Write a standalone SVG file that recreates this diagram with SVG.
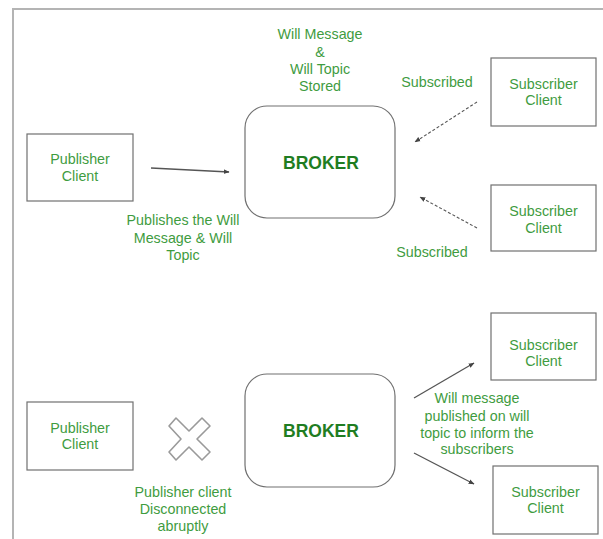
<svg xmlns="http://www.w3.org/2000/svg" width="603" height="539" viewBox="0 0 603 539">
  <style>
    .frame { fill: none; stroke: #b4b4b4; stroke-width: 2; }
    .box { fill: #ffffff; stroke: #707070; stroke-width: 1.2; }
    .broker { fill: #ffffff; stroke: #707070; stroke-width: 1.2; }
    .lbl { font-family: "Liberation Sans", Arial, sans-serif; font-size: 14.3px; fill: #3f9c3f; text-anchor: middle; }
    .title { font-family: "Liberation Sans", Arial, sans-serif; font-size: 17.5px; font-weight: bold; fill: #1f7d22; text-anchor: middle; }
    .edge { fill: none; stroke: #555555; stroke-width: 1.3; }
    .dash { stroke-dasharray: 3 2; stroke-width: 1.1; }
    .cross { fill: #ffffff; stroke: #9a9a9a; stroke-width: 1.6; stroke-linejoin: round; }
  </style>
  <defs>
    <marker id="arrow" viewBox="0 0 10 10" refX="9" refY="5" markerWidth="6" markerHeight="6" orient="auto" markerUnits="userSpaceOnUse">
      <path d="M0,1 L10,5 L0,9 Z" fill="#444444"/>
    </marker>
  </defs>

  <rect width="603" height="539" fill="#ffffff"/>
  <!-- outer frame: top and left edges -->
  <path class="frame" d="M13,539 L13,9 L603,9"/>

  <!-- upper scenario -->
  <g id="publisher-top">
    <rect class="box" x="27" y="134" width="106" height="67"/>
    <text class="lbl" x="80" y="164">Publisher</text>
    <text class="lbl" x="80" y="181">Client</text>
  </g>
  <g id="broker-top">
    <rect class="broker" x="245" y="106" width="150" height="112" rx="22" ry="22"/>
    <text class="title" x="321" y="169">BROKER</text>
  </g>
  <g id="subscriber-top-1">
    <rect class="box" x="491" y="58" width="105" height="68"/>
    <text class="lbl" x="543.5" y="89">Subscriber</text>
    <text class="lbl" x="543.5" y="105">Client</text>
  </g>
  <g id="subscriber-top-2">
    <rect class="box" x="491" y="185" width="105" height="66"/>
    <text class="lbl" x="543.5" y="216">Subscriber</text>
    <text class="lbl" x="543.5" y="233">Client</text>
  </g>

  <!-- lower scenario -->
  <g id="publisher-bottom">
    <rect class="box" x="27" y="402" width="106" height="68"/>
    <text class="lbl" x="80" y="433">Publisher</text>
    <text class="lbl" x="80" y="449">Client</text>
  </g>
  <g id="disconnect-mark">
    <polygon class="cross" points="169,426 176,418 189,431 202,418 210,426 197,439 210,452 202,460 189,447 176,460 169,452 181,439"/>
  </g>
  <g id="broker-bottom">
    <rect class="broker" x="245" y="374" width="150" height="113" rx="22" ry="22"/>
    <text class="title" x="321" y="437">BROKER</text>
  </g>
  <g id="subscriber-bottom-1">
    <rect class="box" x="491" y="313" width="105" height="67"/>
    <text class="lbl" x="543.5" y="350">Subscriber</text>
    <text class="lbl" x="543.5" y="366">Client</text>
  </g>
  <g id="subscriber-bottom-2">
    <rect class="box" x="493" y="466" width="105" height="68"/>
    <text class="lbl" x="545.5" y="497">Subscriber</text>
    <text class="lbl" x="545.5" y="513">Client</text>
  </g>

  <!-- connectors -->
  <g id="connectors">
    <line class="edge" x1="151" y1="168" x2="229" y2="172" marker-end="url(#arrow)"/>
    <line class="edge dash" x1="477" y1="102" x2="415" y2="142" marker-end="url(#arrow)"/>
    <line class="edge dash" x1="477" y1="228" x2="420" y2="197" marker-end="url(#arrow)"/>
    <line class="edge" x1="414" y1="398" x2="474" y2="363" marker-end="url(#arrow)"/>
    <line class="edge" x1="414" y1="453" x2="474" y2="484" marker-end="url(#arrow)"/>
  </g>

  <!-- annotations -->
  <g id="labels">
    <text class="lbl" x="320" y="39">Will Message</text>
    <text class="lbl" x="320" y="57">&amp;</text>
    <text class="lbl" x="320" y="74">Will Topic</text>
    <text class="lbl" x="320" y="91">Stored</text>

    <text class="lbl" x="437" y="87">Subscribed</text>
    <text class="lbl" x="432" y="257">Subscribed</text>

    <text class="lbl" x="183" y="225">Publishes the Will</text>
    <text class="lbl" x="183" y="243">Message &amp; Will</text>
    <text class="lbl" x="183" y="260">Topic</text>

    <text class="lbl" x="477" y="403">Will message</text>
    <text class="lbl" x="477" y="421">published on will</text>
    <text class="lbl" x="477" y="438">topic to inform the</text>
    <text class="lbl" x="477" y="454">subscribers</text>

    <text class="lbl" x="183" y="497">Publisher client</text>
    <text class="lbl" x="183" y="514">Disconnected</text>
    <text class="lbl" x="183" y="531">abruptly</text>
  </g>
</svg>
